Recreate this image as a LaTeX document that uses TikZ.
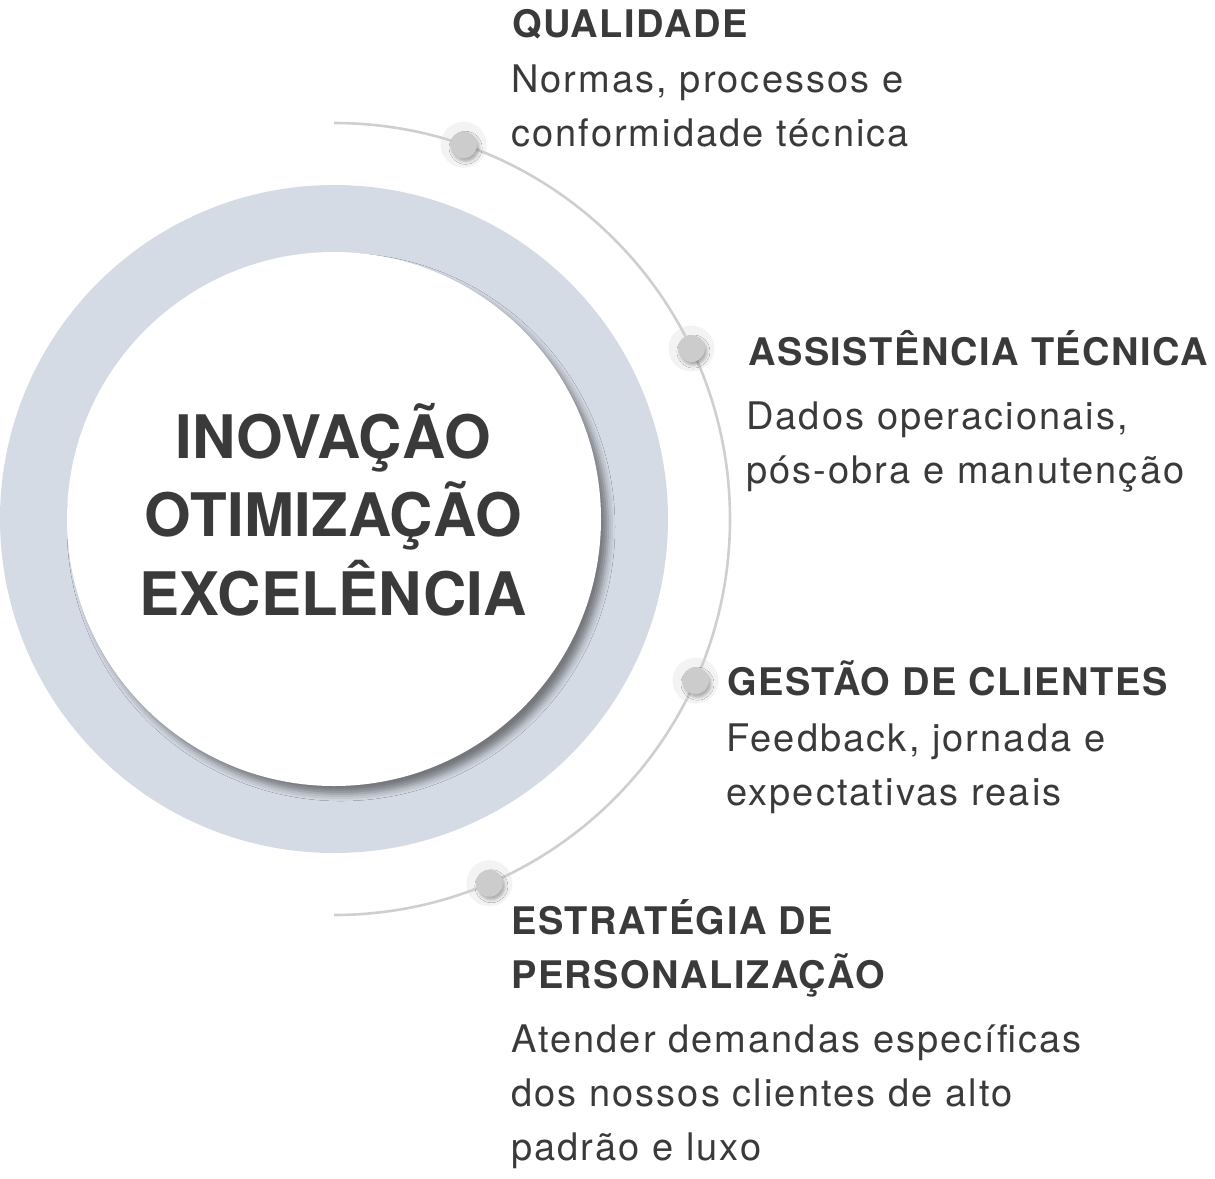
\documentclass[tikz,border=0pt]{standalone}
\usepackage{fontspec}
\setmainfont{TeX Gyre Heros}
\newfontfamily\headfont{TeX Gyre Heros}[LetterSpace=4]
\newfontfamily\bodyfont{TeX Gyre Heros}[LetterSpace=5.5]
\newfontfamily\titlefont{TeX Gyre Heros}[LetterSpace=0.5]
\usetikzlibrary{shadows.blur,calc}
\definecolor{txt}{HTML}{3A3A3A}
\definecolor{ringc}{HTML}{D5DBE5}
\definecolor{arcc}{HTML}{CFCFCF}
\definecolor{dotc}{HTML}{CCCCCC}
\definecolor{haloc}{HTML}{F3F3F3}
\tikzset{
  head/.style={anchor=base west, inner sep=0pt, text=txt, align=left,
    font=\headfont\bfseries\fontsize{38}{54}\selectfont},
  body/.style={anchor=base west, inner sep=0pt, text=txt, align=left,
    font=\bodyfont\fontsize{38}{54}\selectfont},
  halo/.style={circle, fill=haloc, minimum size=46pt, inner sep=0pt},
  dotnode/.style={circle, fill=dotc, minimum size=27pt, inner sep=0pt,
    blur shadow={shadow xshift=2pt, shadow yshift=-3pt, shadow opacity=30, shadow blur radius=3pt}},
}
\begin{document}
\begin{tikzpicture}[x=1pt,y=-1pt]
\useasboundingbox (0,0) rectangle (1215,1178);
\coordinate (c) at (334,519);
% ring
\node[circle, fill=ringc, minimum size=668pt, inner sep=0pt] (ring) at (c) {};
\node[circle, fill=white, minimum size=534pt, inner sep=0pt,
  blur shadow={shadow xshift=7pt, shadow yshift=-8pt, shadow opacity=45, shadow blur radius=7pt}] (core) at (c) {};
\node[anchor=base, text=txt, font=\titlefont\bfseries\fontsize{60}{78.5}\selectfont, align=center, inner sep=0pt] (title) at (333,615)
  {INOVAÇÃO\\OTIMIZAÇÃO\\EXCELÊNCIA};
% halos
\node[halo] (h1) at ($(c)+(70.9:396pt)$) {};
\node[halo] (h2) at ($(c)+(25.5:396pt)$) {};
\node[halo] (h3) at ($(c)+(-24.1:396pt)$) {};
\node[halo] (h4) at ($(c)+(-66.9:396pt)$) {};
% arc
\draw[arcc, line width=2.6pt] ($(c)+(90:396pt)$) arc[start angle=90, end angle=-90, radius=396pt];
% dots
\node[dotnode] (d1) at (h1) {};
\node[dotnode] (d2) at (h2) {};
\node[dotnode] (d3) at (h3) {};
\node[dotnode] (d4) at (h4) {};
% texts (anchored at the baseline of their last line)
\node[head] (t1) at (512,37) {QUALIDADE};
\node[body] (b1) at (511,146) {Normas, processos e\\conformidade técnica};
\node[head] (t2) at (748,365) {ASSISTÊNCIA TÉCNICA};
\node[body] (b2) at (746,483) {Dados operacionais,\\pós-obra e manutenção};
\node[head] (t3) at (727,695) {GESTÃO DE CLIENTES};
\node[body] (b3) at (726,805) {Feedback, jornada e\\expectativas reais};
\node[head] (t4) at (511,988) {ESTRATÉGIA DE\\PERSONALIZAÇÃO};
\node[body] (b4) at (511,1160) {Atender demandas específicas\\dos nossos clientes de alto\\padrão e luxo};
\end{tikzpicture}
\end{document}
